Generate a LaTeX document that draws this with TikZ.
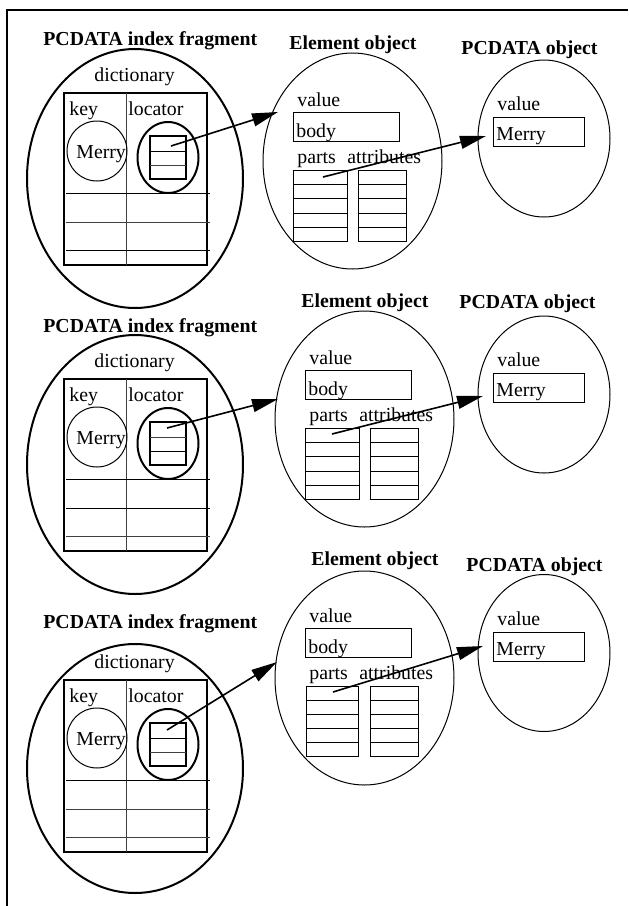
\documentclass[tikz,border=0pt]{standalone}
\usepackage{fontspec}
\setmainfont{Liberation Serif}
\usetikzlibrary{shapes.geometric,arrows.meta}
\tikzset{
  txt/.style={font=\fontsize{9.9}{12}\selectfont,inner sep=0pt,anchor=base west},
  ttl/.style={txt,font=\fontsize{9.9}{12}\selectfont\bfseries},
  fragment/.style={draw,ellipse,line width=1pt,minimum width=108pt,minimum height=129.5pt,inner sep=0pt},
  element/.style={draw,ellipse,line width=.5pt,minimum width=89.5pt,minimum height=108pt,inner sep=0pt},
  pcobj/.style={draw,ellipse,line width=.5pt,minimum width=66pt,minimum height=78.5pt,inner sep=0pt},
  locell/.style={draw,ellipse,line width=1pt,minimum width=30.5pt,minimum height=35.5pt,inner sep=0pt},
  keycirc/.style={draw,circle,line width=.5pt,minimum size=30pt,inner sep=0pt},
  ptr/.style={line width=.8pt,-{Triangle[length=13pt,width=6.5pt]}},
  row/.style={line width=.5pt},
  grayrow/.style={line width=.5pt,black!75}
}
\begin{document}
\begin{tikzpicture}[x=.5pt,y=-.5pt]
\useasboundingbox (0,0) rectangle (628,906);
\draw[line width=1pt] (7,906) -- (7,10) -- (628,10); %frame

%%% first row
\node[ttl] (fragtitleA) at (43,45) {PCDATA index fragment};
\node[fragment] (fragA) at (135,178.5) {};
\node[txt] (dictA) at (94,81) {dictionary};
\draw[line width=1pt] (64,93) rectangle (207,265); %dictionary
\draw[grayrow] (126,93) -- (126,265);
\draw[row] (66,193) -- (210,193);
\draw[grayrow] (66,222) -- (210,222);
\draw[row] (66,250) -- (210,250);
\node[txt] (keyA) at (69,115) {key};
\node[txt] (locA) at (128,115) {locator};
\node[keycirc] (keycA) at (97,151) {};
\node[txt] (merryA) at (76,158) {Merry};
\node[locell] (loceA) at (168,157.5) {};
\draw[line width=1pt] (150,136) rectangle (186,179); %locator entry
\draw[row] (150,151) -- (186,151);
\draw[grayrow] (150,165) -- (186,165);
%element object
\node[ttl] (elemtitleA) at (289,49) {Element object};
\node[element] (elemA) at (352.5,161) {};
\node[txt] (evalA) at (297,106) {value};
\draw[row] (293,112) rectangle (399,141);
\node[txt] (bodyA) at (296,137) {body};
\node[txt] (partsA) at (297,163) {parts};
\node[txt] (attrA) at (347,163) {attributes};
\draw[row] (293,170) rectangle (347,241) (293,184) -- (347,184) (293,198) -- (347,198)
  (293,213) -- (347,213) (293,227) -- (347,227); %parts
\draw[row] (358,170) rectangle (406,241) (358,184) -- (406,184) (358,198) -- (406,198)
  (358,213) -- (406,213) (358,227) -- (406,227); %attributes
%pcdata object
\node[ttl] (pctitleA) at (461,54) {PCDATA object};
\node[pcobj] (pcA) at (544,138.5) {};
\node[txt] (pvalA) at (497,110) {value};
\draw[row] (493,117) rectangle (584,146);
\node[txt] (pmerryA) at (496,140) {Merry};

%%% second row
\begin{scope}[shift={(0,286)}]
\node[ttl] (fragtitleB) at (43,46) {PCDATA index fragment};
\node[fragment] (fragB) at (135,178.5) {};
\node[txt] (dictB) at (94,81) {dictionary};
\draw[line width=1pt] (64,93) rectangle (207,265); %dictionary
\draw[grayrow] (126,93) -- (126,265);
\draw[row] (66,193) -- (210,193);
\draw[row] (66,222) -- (210,222);
\draw[grayrow] (66,250) -- (210,250);
\node[txt] (keyB) at (69,115) {key};
\node[txt] (locB) at (128,115) {locator};
\node[keycirc] (keycB) at (97,151) {};
\node[txt] (merryB) at (76,158) {Merry};
\node[locell] (loceB) at (168,157.5) {};
\draw[line width=1pt] (150,136) rectangle (186,179); %locator entry
\draw[grayrow] (150,151) -- (186,151);
\draw[row] (150,165) -- (186,165);
\end{scope}
\begin{scope}[shift={(12,258)}]
\node[ttl] (elemtitleB) at (289,49) {Element object};
\node[element] (elemB) at (352.5,161) {};
\node[txt] (evalB) at (297,106) {value};
\draw[row] (293,112) rectangle (399,141);
\node[txt] (bodyB) at (296,137) {body};
\node[txt] (partsB) at (297,163) {parts};
\node[txt] (attrB) at (347,163) {attributes};
\draw[row] (293,170) rectangle (347,241) (293,184) -- (347,184) (293,198) -- (347,198)
  (293,213) -- (347,213) (293,227) -- (347,227); %parts
\draw[row] (358,170) rectangle (406,241) (358,184) -- (406,184) (358,198) -- (406,198)
  (358,213) -- (406,213) (358,227) -- (406,227); %attributes
\end{scope}
\begin{scope}[shift={(0,256)}]
\node[ttl] (pctitleB) at (459,52) {PCDATA object};
\node[pcobj] (pcB) at (544,138.5) {};
\node[txt] (pvalB) at (497,110) {value};
\draw[row] (493,117) rectangle (584,146);
\node[txt] (pmerryB) at (496,140) {Merry};
\end{scope}

%%% third row
\begin{scope}[shift={(0,587)}]
\node[ttl] (fragtitleC) at (43,41) {PCDATA index fragment};
\node[fragment,minimum height=124.5pt] (fragC) at (135,181.5) {};
\node[txt] (dictC) at (94,81) {dictionary};
\draw[line width=1pt] (64,93) rectangle (207,265); %dictionary
\draw[grayrow] (126,93) -- (126,265);
\draw[row] (66,193) -- (210,193);
\draw[grayrow] (66,222) -- (210,222);
\draw[grayrow] (66,250) -- (210,250);
\node[txt] (keyC) at (69,115) {key};
\node[txt] (locC) at (128,115) {locator};
\node[keycirc] (keycC) at (97,151) {};
\node[txt] (merryC) at (76,158) {Merry};
\node[locell] (loceC) at (168,157.5) {};
\draw[line width=1pt] (150,136) rectangle (186,179); %locator entry
\draw[row] (150,151) -- (186,151);
\draw[grayrow] (150,165) -- (186,165);
\end{scope}
\begin{scope}[shift={(12,516)}]
\node[ttl] (elemtitleC) at (299,49) {Element object};
\node[element,minimum height=107pt] (elemC) at (352.5,162) {};
\node[txt] (evalC) at (297,106) {value};
\draw[row] (293,112) rectangle (399,141);
\node[txt] (bodyC) at (296,137) {body};
\node[txt] (partsC) at (297,163) {parts};
\node[txt] (attrC) at (347,163) {attributes};
\draw[row] (294,170) rectangle (346,240) (294,184) -- (346,184) (294,198) -- (346,198)
  (294,212) -- (346,212) (294,226) -- (346,226); %parts
\draw[row] (358,170) rectangle (406,240) (358,184) -- (406,184) (358,198) -- (406,198)
  (358,212) -- (406,212) (358,226) -- (406,226); %attributes
\end{scope}
\begin{scope}[shift={(0,515)}]
\node[ttl] (pctitleC) at (466,56) {PCDATA object};
\node[pcobj] (pcC) at (544,138) {};
\node[txt] (pvalC) at (497,110) {value};
\draw[row] (493,117) rectangle (584,146);
\node[txt] (pmerryC) at (496,140) {Merry};
\end{scope}

%pointers
\coordinate (slotA) at (171,146);  \coordinate (eltipA) at (278,112);
\coordinate (partA) at (323,177);  \coordinate (pctipA) at (486,136);
\coordinate (slotB) at (167,428);  \coordinate (eltipB) at (278,399);
\coordinate (partB) at (332,434);  \coordinate (pctipB) at (483,396);
\coordinate (slotC) at (167,730);  \coordinate (eltipC) at (277,662);
\coordinate (partC) at (333,692);  \coordinate (pctipC) at (483,646);
\draw[ptr] (slotA) -- (eltipA);
\draw[ptr] (partA) -- (pctipA);
\draw[ptr] (slotB) -- (eltipB);
\draw[ptr] (partB) -- (pctipB);
\draw[ptr] (slotC) -- (eltipC);
\draw[ptr] (partC) -- (pctipC);
\end{tikzpicture}
\end{document}
